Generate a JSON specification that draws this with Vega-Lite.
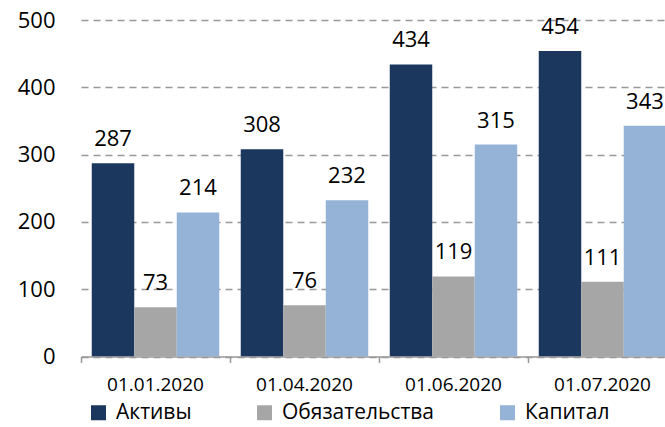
{
  "$schema": "https://vega.github.io/schema/vega-lite/v6.json",
  "autosize": "none",
  "width": 584,
  "height": 336.5,
  "padding": {"left": 81, "top": 20, "right": 0, "bottom": 70.5},
  "background": "white",
  "config": {"view": {"stroke": null}, "font": "Open Sans"},
  "data": {
    "values": [
      {"date": "01.01.2020", "series": "Активы", "value": 287},
      {"date": "01.01.2020", "series": "Обязательства", "value": 73},
      {"date": "01.01.2020", "series": "Капитал", "value": 214},
      {"date": "01.04.2020", "series": "Активы", "value": 308},
      {"date": "01.04.2020", "series": "Обязательства", "value": 76},
      {"date": "01.04.2020", "series": "Капитал", "value": 232},
      {"date": "01.06.2020", "series": "Активы", "value": 434},
      {"date": "01.06.2020", "series": "Обязательства", "value": 119},
      {"date": "01.06.2020", "series": "Капитал", "value": 315},
      {"date": "01.07.2020", "series": "Активы", "value": 454},
      {"date": "01.07.2020", "series": "Обязательства", "value": 111},
      {"date": "01.07.2020", "series": "Капитал", "value": 343}
    ]
  },
  "encoding": {
    "x": {
      "field": "date",
      "type": "nominal",
      "sort": ["01.01.2020", "01.04.2020", "01.06.2020", "01.07.2020"],
      "scale": {"range": [0, 596], "paddingInner": 0, "paddingOuter": 0},
      "axis": {
        "title": null,
        "bandPosition": 0,
        "labelAngle": 0,
        "domainColor": "#999999",
        "domainWidth": 1.5,
        "tickColor": "#999999",
        "tickWidth": 1.5,
        "tickSize": 6,
        "labelFontSize": 19,
        "labelColor": "#000000",
        "labelPadding": 13,
        "grid": false
      }
    },
    "xOffset": {
      "field": "series",
      "type": "nominal",
      "sort": ["Активы", "Обязательства", "Капитал"],
      "scale": {"paddingInner": 0, "paddingOuter": 0.253}
    },
    "y": {
      "field": "value",
      "type": "quantitative",
      "scale": {"domain": [0, 500], "nice": false},
      "axis": {
        "title": null,
        "values": [0, 100, 200, 300, 400, 500],
        "domain": false,
        "ticks": false,
        "tickSize": 0,
        "labelFontSize": 22,
        "labelPadding": 26,
        "labelColor": "#000000",
        "gridColor": "#999999",
        "gridDash": [7, 5],
        "gridWidth": 1.5
      }
    }
  },
  "layer": [
    {
      "mark": {"type": "bar", "clip": true},
      "encoding": {
        "color": {
          "field": "series",
          "type": "nominal",
          "sort": ["Активы", "Обязательства", "Капитал"],
          "scale": {"domain": ["Активы", "Обязательства", "Капитал"], "range": ["#1B375E", "#A6A6A6", "#95B3D7"]},
          "legend": {
            "title": null,
            "orient": "none",
            "legendX": 7,
            "legendY": 382,
            "direction": "horizontal",
            "symbolType": "square",
            "symbolSize": 225,
            "symbolStrokeWidth": 0,
            "symbolOpacity": 1,
            "labelFontSize": 21,
            "labelOffset": 7,
            "labelLimit": 300,
            "columnPadding": 62,
            "labelColor": "#000000",
            "padding": 0
          }
        }
      }
    },
    {
      "mark": {"type": "text", "dy": -17, "baseline": "alphabetic", "fontSize": 22, "color": "#000000"},
      "encoding": {"text": {"field": "value", "type": "quantitative"}}
    }
  ]
}
